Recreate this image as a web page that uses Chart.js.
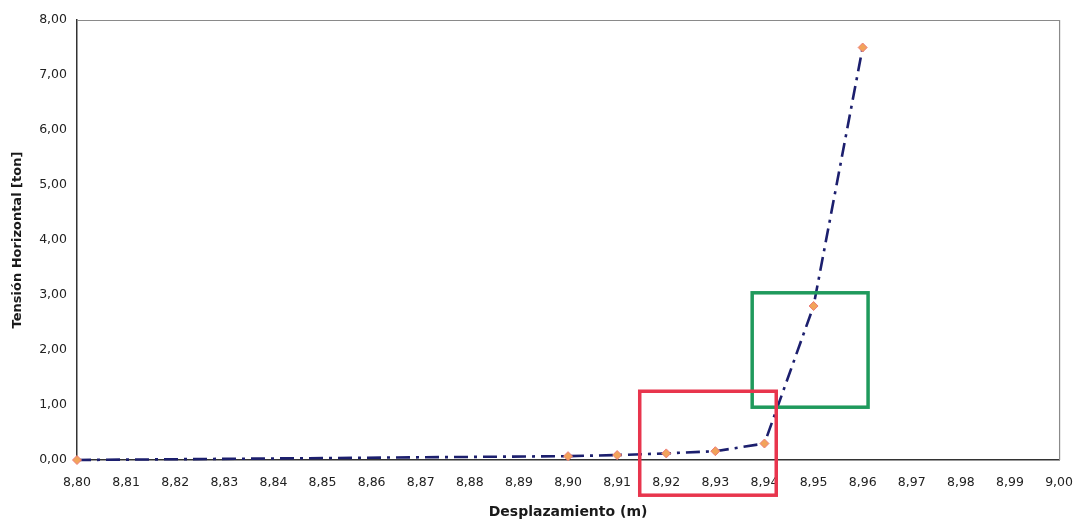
<!DOCTYPE html>
<html>
<head>
<meta charset="utf-8">
<title>Tensión Horizontal vs Desplazamiento</title>
<script src="https://cdn.jsdelivr.net/npm/chart.js@4.4.1/dist/chart.umd.min.js"></script>
<style>
  html, body { margin: 0; padding: 0; background: #ffffff; }
  #wrap { width: 1083px; height: 521px; position: relative; }
</style>
</head>
<body>
<div id="wrap"><canvas id="c" width="1083" height="521"></canvas></div>
<script>
// Displacement (m) and horizontal tension (ton)
const desplazamiento = [8.80, 8.90, 8.91, 8.92, 8.93, 8.94, 8.95, 8.96];
const tension        = [0.00, 0.07, 0.09, 0.12, 0.16, 0.30, 2.80, 7.50];

// Axis ticks
const xTicks = [8.80, 8.81, 8.82, 8.83, 8.84, 8.85, 8.86, 8.87, 8.88, 8.89, 8.90,
                8.91, 8.92, 8.93, 8.94, 8.95, 8.96, 8.97, 8.98, 8.99, 9.00];
const yTicks = [0, 1, 2, 3, 4, 5, 6, 7, 8];

// Highlight boxes in data units: [xMin, xMax, yMin, yMax]
const cajaRoja  = [8.9146, 8.9424, -0.64, 1.25];
const cajaVerde = [8.9375, 8.9611, 0.96, 3.04];

const fmt = v => Number(v).toFixed(2).replace('.', ',');

const framePlugin = {
  id: 'frame',
  beforeDatasetsDraw(chart) {
    const { ctx, chartArea: a } = chart;
    ctx.save();
    ctx.strokeStyle = '#8a8a8a';
    ctx.lineWidth = 1.2;
    ctx.beginPath();
    ctx.moveTo(a.left, a.top + 0.5);
    ctx.lineTo(a.right + 0.5, a.top + 0.5);
    ctx.lineTo(a.right + 0.5, a.bottom);
    ctx.stroke();
    ctx.restore();
  }
};

const boxesPlugin = {
  id: 'boxes',
  afterDraw(chart) {
    const { ctx, scales: { x, y } } = chart;
    const drawBox = (b, color) => {
      const x0 = x.getPixelForValue(b[0]);
      const x1 = x.getPixelForValue(b[1]);
      const y0 = y.getPixelForValue(b[3]);
      const y1 = y.getPixelForValue(b[2]);
      ctx.save();
      ctx.strokeStyle = color;
      ctx.lineWidth = 3.5;
      ctx.strokeRect(x0, y0, x1 - x0, y1 - y0);
      ctx.restore();
    };
    drawBox(cajaVerde, '#1f9a5c');
    drawBox(cajaRoja, '#e8354d');
  }
};

new Chart(document.getElementById('c'), {
  type: 'line',
  data: {
    datasets: [{
      data: desplazamiento.map((d, i) => ({ x: d, y: tension[i] })),
      borderColor: '#1c1f6e',
      borderWidth: 2.6,
      borderDash: [14, 6, 3, 6],
      tension: 0,
      clip: false,
      pointStyle: 'rectRot',
      pointRadius: 4.5,
      pointBackgroundColor: '#f2a35a',
      pointBorderColor: '#ec7b78',
      pointBorderWidth: 1,
      fill: false
    }]
  },
  options: {
    responsive: false,
    animation: false,
    events: [],
    layout: { padding: { top: 20, right: 23, left: 0, bottom: 0 } },
    plugins: { legend: { display: false }, tooltip: { enabled: false } },
    scales: {
      x: {
        type: 'linear',
        min: 8.80,
        max: 9.00,
        afterBuildTicks: s => { s.ticks = xTicks.map(v => ({ value: v })); },
        afterFit: s => { s.height = 61; },
        grid: { display: false, drawOnChartArea: false, drawTicks: true, tickLength: 5, tickColor: '#444' },
        border: { display: true, color: '#333', width: 1.5 },
        ticks: {
          callback: v => fmt(v),
          color: '#222',
          font: { family: 'DejaVu Sans', size: 12.5 },
          padding: 10,
          maxRotation: 0,
          autoSkip: false
        },
        title: {
          display: true,
          text: 'Desplazamiento (m)',
          color: '#1a1a1a',
          font: { family: 'DejaVu Sans', size: 14, weight: 'bold' },
          padding: { top: 4, bottom: 0 }
        }
      },
      y: {
        type: 'linear',
        min: 0,
        max: 8,
        afterBuildTicks: s => { s.ticks = yTicks.map(v => ({ value: v })); },
        afterFit: s => { s.width = 77; },
        grid: { display: false, drawOnChartArea: false, drawTicks: true, tickLength: 4, tickColor: '#444' },
        border: { display: true, color: '#333', width: 1.5 },
        ticks: {
          callback: v => fmt(v),
          color: '#222',
          font: { family: 'DejaVu Sans', size: 12.5 },
          padding: 6
        },
        title: {
          display: true,
          text: 'Tensión Horizontal [ton]',
          color: '#1a1a1a',
          font: { family: 'DejaVu Sans', size: 13, weight: 'bold' },
          padding: { top: 10, bottom: 2 }
        }
      }
    }
  },
  plugins: [framePlugin, boxesPlugin]
});
</script>
</body>
</html>
